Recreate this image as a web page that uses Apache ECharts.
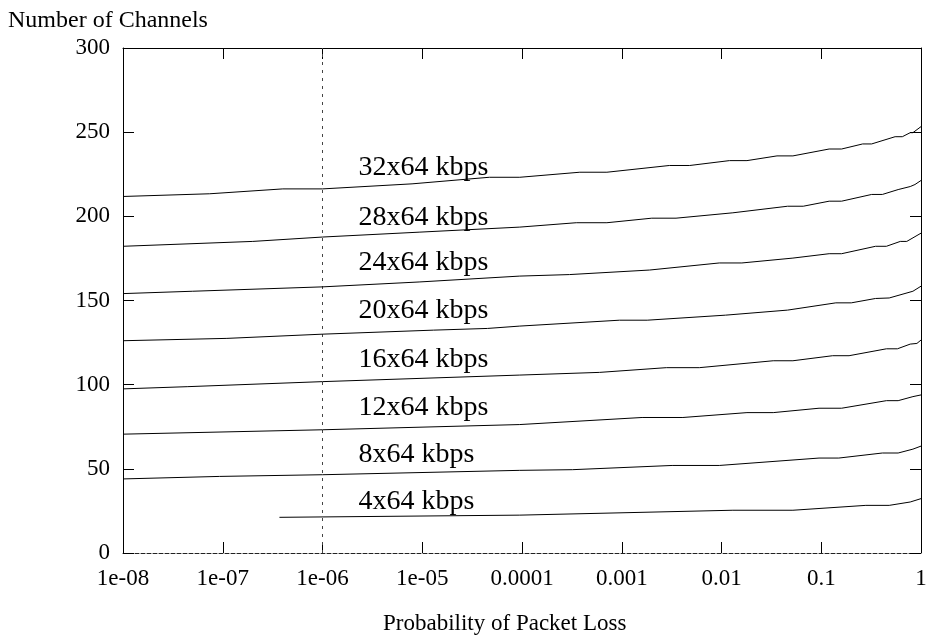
<!DOCTYPE html>
<html>
<head>
<meta charset="utf-8">
<script src="https://cdn.jsdelivr.net/npm/echarts@6/dist/echarts.min.js"></script>
<style>html,body{margin:0;padding:0;background:#fff;}#c{width:926px;height:636px;}</style>
</head>
<body>
<div id="c"></div>
<script>
// Tick labels
const xTickLabels = ['1e-08','1e-07','1e-06','1e-05','0.0001','0.001','0.01','0.1','1'];
const yTicks = [0, 50, 100, 150, 200, 250, 300];

// Series names
const seriesNames = ['32x64 kbps','28x64 kbps','24x64 kbps','20x64 kbps','16x64 kbps','12x64 kbps','8x64 kbps','4x64 kbps'];

// Series values: [probability of packet loss, number of channels]
const s32 = [[1e-8,211.8],[7.4e-8,213.4],[4.0e-7,216.3],[1e-6,216.3],[7.9e-6,219.3],[4.7e-5,223.2],[9.5e-5,223.2],[3.8e-4,226.2],[7.1e-4,226.2],[3.0e-3,230.2],[4.8e-3,230.2],[0.012,233.1],[0.018,233.1],[0.036,235.9],[0.052,235.9],[0.12,240],[0.16,240],[0.26,243],[0.32,243],[0.55,247.3],[0.65,247.3],[0.78,249.7],[0.83,249.7],[1,253.3]];
const s28 = [[1e-8,182.2],[2.0e-7,185.1],[1e-6,187.7],[9.3e-6,190.6],[9.5e-5,193.6],[3.5e-4,196.2],[7.1e-4,196.2],[2.0e-3,198.9],[3.5e-3,198.9],[0.013,202.1],[0.046,206],[0.066,206],[0.12,209],[0.16,209],[0.32,213],[0.41,213],[0.59,215.9],[0.78,217.7],[0.87,218.9],[1,221.3]];
const s24 = [[1e-8,154.1],[5.0e-8,155.5],[1e-6,158.1],[9.3e-6,161],[9.5e-5,164.5],[3.0e-4,165.4],[1.9e-3,168.1],[9.5e-3,172.3],[0.016,172.3],[0.052,175.2],[0.12,177.8],[0.16,177.8],[0.35,182.2],[0.45,182.2],[0.62,185.1],[0.72,185.1],[1,190]];
const s20 = [[1e-8,126.1],[1.1e-7,127.5],[1e-6,130],[1.3e-5,132.4],[4.5e-5,133.4],[9.5e-5,134.8],[9.5e-4,138.3],[1.8e-3,138.3],[0.011,141.3],[0.046,144.3],[0.14,148.6],[0.20,148.6],[0.35,151.2],[0.48,151.5],[0.83,155.5],[1,158.5]];
const s16 = [[1e-8,97.5],[4.4e-8,98.8],[1e-6,101.8],[9.5e-5,105.7],[6.0e-4,107.3],[2.8e-3,110.1],[6.0e-3,110.1],[0.033,114.2],[0.052,114.2],[0.13,117.2],[0.19,117.2],[0.45,121.3],[0.58,121.3],[0.78,124.1],[0.91,124.5],[1,126.5]];
const s12 = [[1e-8,70.6],[1e-6,73.2],[9.5e-5,76.3],[1.6e-3,80.5],[4.1e-3,80.5],[0.018,83.4],[0.033,83.4],[0.095,86],[0.16,86],[0.45,90.5],[0.59,90.5],[0.83,92.9],[1,93.9]];
const s8  = [[1e-8,44],[9.3e-8,45.5],[1e-6,46.5],[9.5e-5,49.1],[3.2e-4,49.5],[3.2e-3,52],[9.5e-3,52],[0.095,56.4],[0.15,56.4],[0.41,59.4],[0.59,59.4],[0.83,61.7],[1,63.5]];
const s4  = [[3.7e-7,21.2],[9.5e-5,22.5],[0.013,25.4],[0.052,25.4],[0.28,28.3],[0.48,28.3],[0.78,30.3],[1,32.3]];

// Reference vertical line at p = 1e-6
const refLineX = 1e-6;
// Label anchor (in data coordinates) for each curve's text
const labelX = 2.3e-6;
const labelY = [228.7, 199.2, 172.4, 143.8, 114.6, 86.5, 58.5, 30.5];

const allSeries = [s32, s28, s24, s20, s16, s12, s8, s4];
const FONT = '"Liberation Serif","Times New Roman",Times,serif';

const chart = echarts.init(document.getElementById('c'), null, {renderer: 'canvas'});

const xFmt = v => {
  const e = Math.round(Math.log10(v));
  return xTickLabels[e + 8];
};

const series = allSeries.map((d, i) => ({
  type: 'line', name: seriesNames[i], data: d, showSymbol: false, symbol: 'none',
  lineStyle: {color: '#000', width: 1}, silent: true, z: 3
}));

series.push({
  type: 'line', data: [[refLineX, 0], [refLineX, 300]], showSymbol: false, symbol: 'none',
  lineStyle: {color: '#444', width: 1, type: [3, 5]}, silent: true, z: 2
});

series.push({
  type: 'custom', silent: true, z: 4,
  data: seriesNames.map((n, i) => [labelX, labelY[i], i]),
  renderItem: function (params, api) {
    const pt = api.coord([api.value(0), api.value(1)]);
    return {
      type: 'text', x: pt[0], y: pt[1],
      style: {text: seriesNames[api.value(2)], fill: '#000', font: '28px ' + FONT,
        align: 'left', verticalAlign: 'middle'}
    };
  }
});

const baseX = {
  type: 'log', logBase: 10, min: 1e-8, max: 1, splitNumber: 8,
  splitLine: {show: false}, minorTick: {show: false}
};
const baseY = {
  type: 'value', min: 0, max: 300, interval: 50, splitLine: {show: false}
};

chart.setOption({
  animation: false,
  backgroundColor: '#fff',
  title: [
    {text: 'Number of Channels', left: 8, top: 9, padding: 0,
     textStyle: {fontFamily: FONT, fontSize: 24, fontWeight: 'normal', color: '#000'}},
    {text: 'Probability of Packet Loss', left: 383, top: 612, padding: 0,
     textStyle: {fontFamily: FONT, fontSize: 23, fontWeight: 'normal', color: '#000'}}
  ],
  grid: {left: 123, right: 5, top: 48, bottom: 83, containLabel: false, outerBoundsMode: 'none'},
  xAxis: [
    Object.assign({}, baseX, {
      position: 'bottom',
      axisLine: {show: true, onZero: false, lineStyle: {color: '#222', width: 1, type: [4, 2]}},
      axisTick: {show: true, inside: true, length: 11, lineStyle: {color: '#000'}},
      axisLabel: {show: true, margin: 14, formatter: xFmt, fontFamily: FONT, fontSize: 23, color: '#000'}
    }),
    Object.assign({}, baseX, {
      position: 'top',
      axisLine: {show: true, onZero: false, lineStyle: {color: '#000', width: 1}},
      axisTick: {show: true, inside: true, length: 11, lineStyle: {color: '#000'}},
      axisLabel: {show: false}
    })
  ],
  yAxis: [
    Object.assign({}, baseY, {
      position: 'left',
      axisLine: {show: true, onZero: false, lineStyle: {color: '#000', width: 1}},
      axisTick: {show: true, inside: true, length: 11, lineStyle: {color: '#000'}},
      axisLabel: {show: true, margin: 13, fontFamily: FONT, fontSize: 23, color: '#000',
        formatter: v => (yTicks.indexOf(v) >= 0 ? String(v) : '')}
    }),
    Object.assign({}, baseY, {
      position: 'right',
      axisLine: {show: true, onZero: false, lineStyle: {color: '#000', width: 1}},
      axisTick: {show: true, inside: true, length: 11, lineStyle: {color: '#000'}},
      axisLabel: {show: false}
    })
  ],
  series: series
});
</script>
</body>
</html>
